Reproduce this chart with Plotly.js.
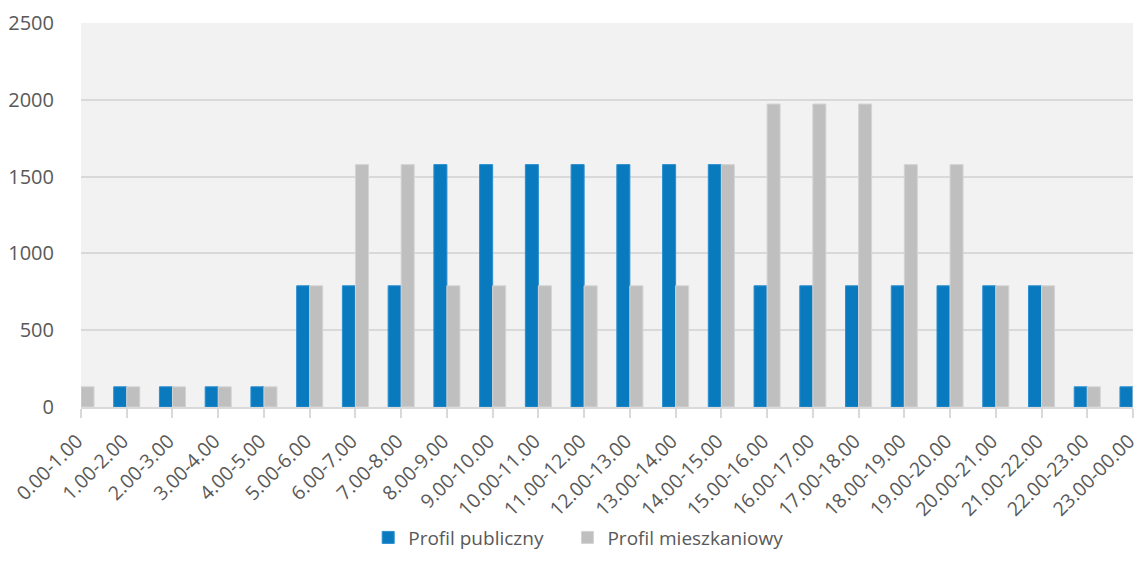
<!DOCTYPE html>
<html>
<head>
<meta charset="utf-8">
<script src="https://cdn.plot.ly/plotly-3.0.1.min.js"></script>
<style>html,body{margin:0;padding:0;background:#fff;}#chart{width:1142px;height:578px;}</style>
</head>
<body>
<div id="chart"></div>
<script>
const categories = ["0.00-1.00","1.00-2.00","2.00-3.00","3.00-4.00","4.00-5.00","5.00-6.00","6.00-7.00","7.00-8.00","8.00-9.00","9.00-10.00","10.00-11.00","11.00-12.00","12.00-13.00","13.00-14.00","14.00-15.00","15.00-16.00","16.00-17.00","17.00-18.00","18.00-19.00","19.00-20.00","20.00-21.00","21.00-22.00","22.00-23.00","23.00-00.00"];
const publiczny = [131.5,131.5,131.5,131.5,131.5,789,789,789,1578,1578,1578,1578,1578,1578,1578,789,789,789,789,789,789,789,131.5,131.5];
const mieszkaniowy = [131.5,131.5,131.5,131.5,131.5,789,1578,1578,789,789,789,789,789,789,1578,1972.5,1972.5,1972.5,1578,1578,789,789,131.5,131.5];
const seriesNames = ["Profil publiczny","Profil mieszkaniowy"];

const font = "Open Sans, Lato, sans-serif";
const data = [
  {type:'bar', x:categories, y:publiczny, name:seriesNames[0], legend:'legend',
   marker:{color:'#0a7abf', line:{color:'#2b8ed0', width:1}}},
  {type:'bar', x:categories, y:mieszkaniowy, name:seriesNames[1], legend:'legend2',
   marker:{color:'#bfbfbf', line:{color:'#d4d4d4', width:1}}}
];
const legendBase = {orientation:'h', xanchor:'left', y:-0.34, yanchor:'middle',
  font:{size:19, color:'#595959'}, itemwidth:30, bgcolor:'rgba(0,0,0,0)'};
const layout = {
  width:1142, height:578,
  margin:{l:81, r:9, t:23, b:171},
  paper_bgcolor:'#ffffff', plot_bgcolor:'#f2f2f2',
  barmode:'group', bargap:0.43, bargroupgap:0,
  font:{family:font, color:'#595959', size:20},
  xaxis:{type:'category', range:[0,23], tickangle:-45,
    showline:true, linecolor:'#d9d9d9', linewidth:2,
    ticks:'outside', ticklen:9, tickwidth:2, tickcolor:'#d9d9d9',
    ticklabelshift:-4, ticklabelstandoff:4,
    showgrid:false, tickfont:{size:19.5, color:'#595959'}, fixedrange:true},
  yaxis:{range:[0,2500], dtick:500, showgrid:true, gridcolor:'#d9d9d9', gridwidth:2,
    zeroline:false, showline:false, ticks:'outside', ticklen:22, tickcolor:'rgba(0,0,0,0)',
    tickfont:{size:20, color:'#595959'}, fixedrange:true},
  showlegend:true,
  legend:Object.assign({}, legendBase, {x:0.273}),
  legend2:Object.assign({}, legendBase, {x:0.4624})
};
Plotly.newPlot('chart', data, layout, {displayModeBar:false, staticPlot:true});
</script>
</body>
</html>
